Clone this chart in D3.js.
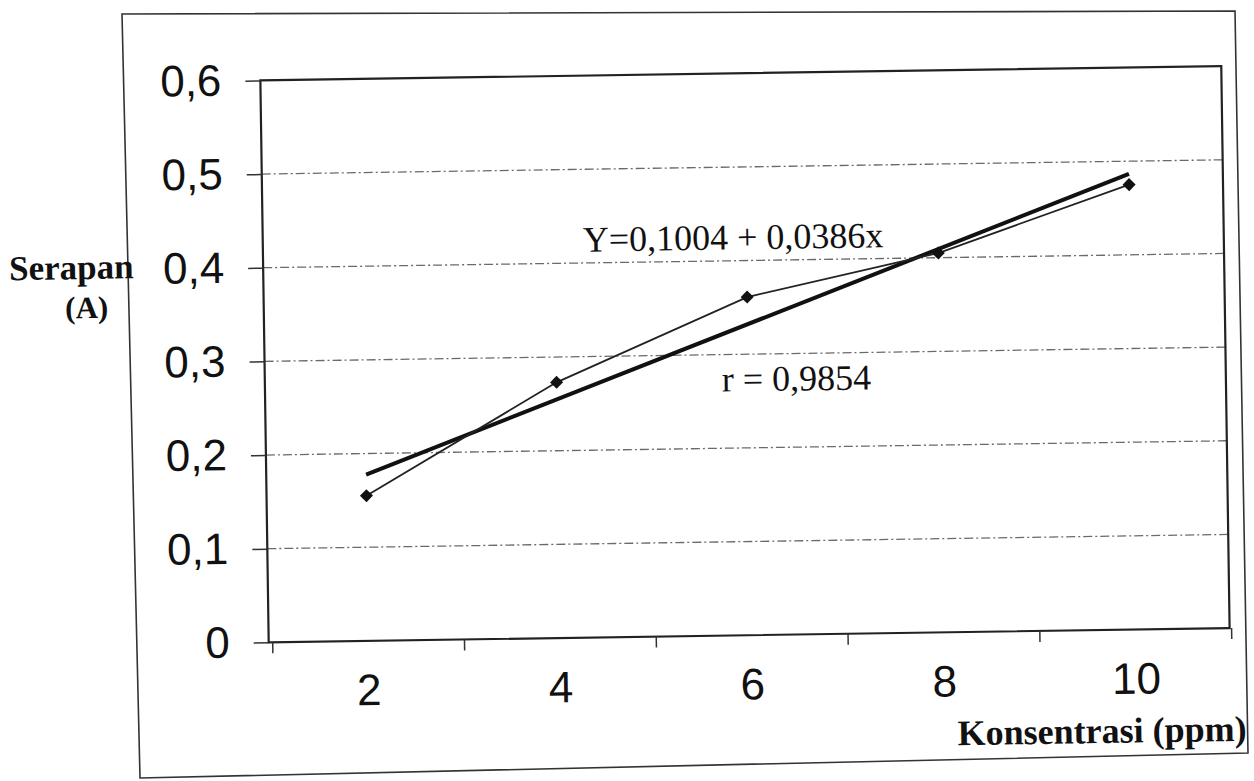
<!DOCTYPE html>
<html>
<head>
<meta charset="utf-8">
<script src="https://cdn.jsdelivr.net/npm/d3@7"></script>
<style>
  body { margin: 0; background: #fff; }
  svg { display: block; }
</style>
</head>
<body>
<div id="vis"></div>
<script>
// data
var konsentrasi = ['2', '4', '6', '8', '10'];
var serapan = [0.155, 0.273, 0.361, 0.405, 0.475];
var yTicks = [0, 0.1, 0.2, 0.3, 0.4, 0.5, 0.6];
// regression line printed on the chart
var intercept = 0.1004;
var slope = 0.0386;
var eqText = 'Y=0,1004 + 0,0386x';
var rText = 'r = 0,9854';

var width = 1254;
var height = 781;

// plot box in the (un-tilted) drawing frame
var plot = { left: 265, right: 1226, top: 75, bottom: 637 };

var svg = d3.select('#vis')
  .append('svg')
  .attr('width', width)
  .attr('height', height);

// outer frame of the scanned page (it is not square on the scan)
var frame = [[122, 14], [1235, 11], [1248, 753], [140, 778]];
svg.append('path')
  .attr('d', d3.line()(frame) + 'Z')
  .attr('fill', 'none')
  .attr('stroke', '#333')
  .attr('stroke-width', 1.6);

// the scan is tilted a little, so draw the chart in a rotated group
var g = svg.append('g')
  .attr('transform', 'rotate(-0.85, 627, 390)');

var x = d3.scaleBand()
  .domain(konsentrasi)
  .range([plot.left + 4, plot.right + 2]);

var y = d3.scaleLinear()
  .domain([0, 0.6])
  .range([plot.bottom, plot.top]);

// gridlines
g.append('g')
  .selectAll('line')
  .data(yTicks.filter(function (d) { return d > 0 && d < 0.6; }))
  .enter()
  .append('line')
  .attr('x1', plot.left)
  .attr('x2', plot.right)
  .attr('y1', d => y(d))
  .attr('y2', d => y(d))
  .attr('stroke', '#6a6a6a')
  .attr('stroke-width', 1.3)
  .attr('stroke-dasharray', '9,3,2,3');

// plot area border
g.append('rect')
  .attr('x', plot.left)
  .attr('y', plot.top)
  .attr('width', plot.right - plot.left)
  .attr('height', plot.bottom - plot.top)
  .attr('fill', 'none')
  .attr('stroke', '#222')
  .attr('stroke-width', 2.2);

// y axis
var yAxis = d3.axisLeft(y)
  .tickValues(yTicks)
  .tickSize(15)
  .tickPadding(24)
  .tickFormat(function (d) { return d === 0 ? '0' : d3.format('.1f')(d).replace('.', ','); });

var yG = g.append('g')
  .attr('transform', 'translate(' + plot.left + ',0)')
  .call(yAxis);
yG.select('.domain').remove();
yG.selectAll('line').attr('stroke', '#333').attr('stroke-width', 1.5);
yG.selectAll('text')
  .attr('font-family', 'Liberation Sans, Arial, sans-serif')
  .attr('font-size', 44)
  .attr('fill', '#111');

// x axis: labels in the middle of each category, ticks between them
var xAxis = d3.axisBottom(x)
  .tickSize(0)
  .tickPadding(33);

var xG = g.append('g')
  .attr('transform', 'translate(0,' + plot.bottom + ')')
  .call(xAxis);
xG.select('.domain').remove();
xG.selectAll('text')
  .attr('font-family', 'Liberation Sans, Arial, sans-serif')
  .attr('font-size', 44)
  .attr('fill', '#111');

var edges = konsentrasi.map(function (c) { return x(c); }).concat([x(konsentrasi[konsentrasi.length - 1]) + x.bandwidth()]);
g.append('g')
  .selectAll('line')
  .data(edges)
  .enter()
  .append('line')
  .attr('x1', d => d)
  .attr('x2', d => d)
  .attr('y1', plot.bottom)
  .attr('y2', plot.bottom + 11)
  .attr('stroke', '#333')
  .attr('stroke-width', 1.5);

function cx(c) { return x(c) + x.bandwidth() / 2; }

// regression line (thick)
var regLine = d3.line()
  .x(d => cx(d))
  .y(d => y(intercept + slope * (+d)));

g.append('path')
  .datum([konsentrasi[0], konsentrasi[konsentrasi.length - 1]])
  .attr('d', regLine)
  .attr('fill', 'none')
  .attr('stroke', '#111')
  .attr('stroke-width', 4);

// measured data line
var dataLine = d3.line()
  .x((d, i) => cx(konsentrasi[i]))
  .y(d => y(d));

g.append('path')
  .datum(serapan)
  .attr('d', dataLine)
  .attr('fill', 'none')
  .attr('stroke', '#222')
  .attr('stroke-width', 1.8);

g.append('g')
  .selectAll('path')
  .data(serapan)
  .enter()
  .append('path')
  .attr('d', d3.symbol(d3.symbolSquare, 85))
  .attr('transform', (d, i) => 'translate(' + cx(konsentrasi[i]) + ',' + y(d) + ') rotate(45)')
  .attr('fill', '#111');

// annotations
var serif = 'Liberation Serif, Times New Roman, serif';

g.append('text')
  .attr('x', 585)
  .attr('y', 251)
  .attr('font-family', serif)
  .attr('font-size', 36)
  .attr('fill', '#111')
  .text(eqText);

g.append('text')
  .attr('x', 722)
  .attr('y', 393)
  .attr('font-family', serif)
  .attr('font-size', 36)
  .attr('fill', '#111')
  .text(rText);

// axis titles
g.append('text')
  .attr('x', 11)
  .attr('y', 271)
  .attr('font-family', serif)
  .attr('font-weight', 'bold')
  .attr('font-size', 35)
  .attr('fill', '#111')
  .text('Serapan');

g.append('text')
  .attr('x', 88)
  .attr('y', 310)
  .attr('text-anchor', 'middle')
  .attr('font-family', serif)
  .attr('font-weight', 'bold')
  .attr('font-size', 31)
  .attr('fill', '#111')
  .text('(A)');

g.append('text')
  .attr('x', 1097)
  .attr('y', 750)
  .attr('text-anchor', 'middle')
  .attr('font-family', serif)
  .attr('font-weight', 'bold')
  .attr('font-size', 36)
  .attr('fill', '#111')
  .text('Konsentrasi (ppm)');
</script>
</body>
</html>
